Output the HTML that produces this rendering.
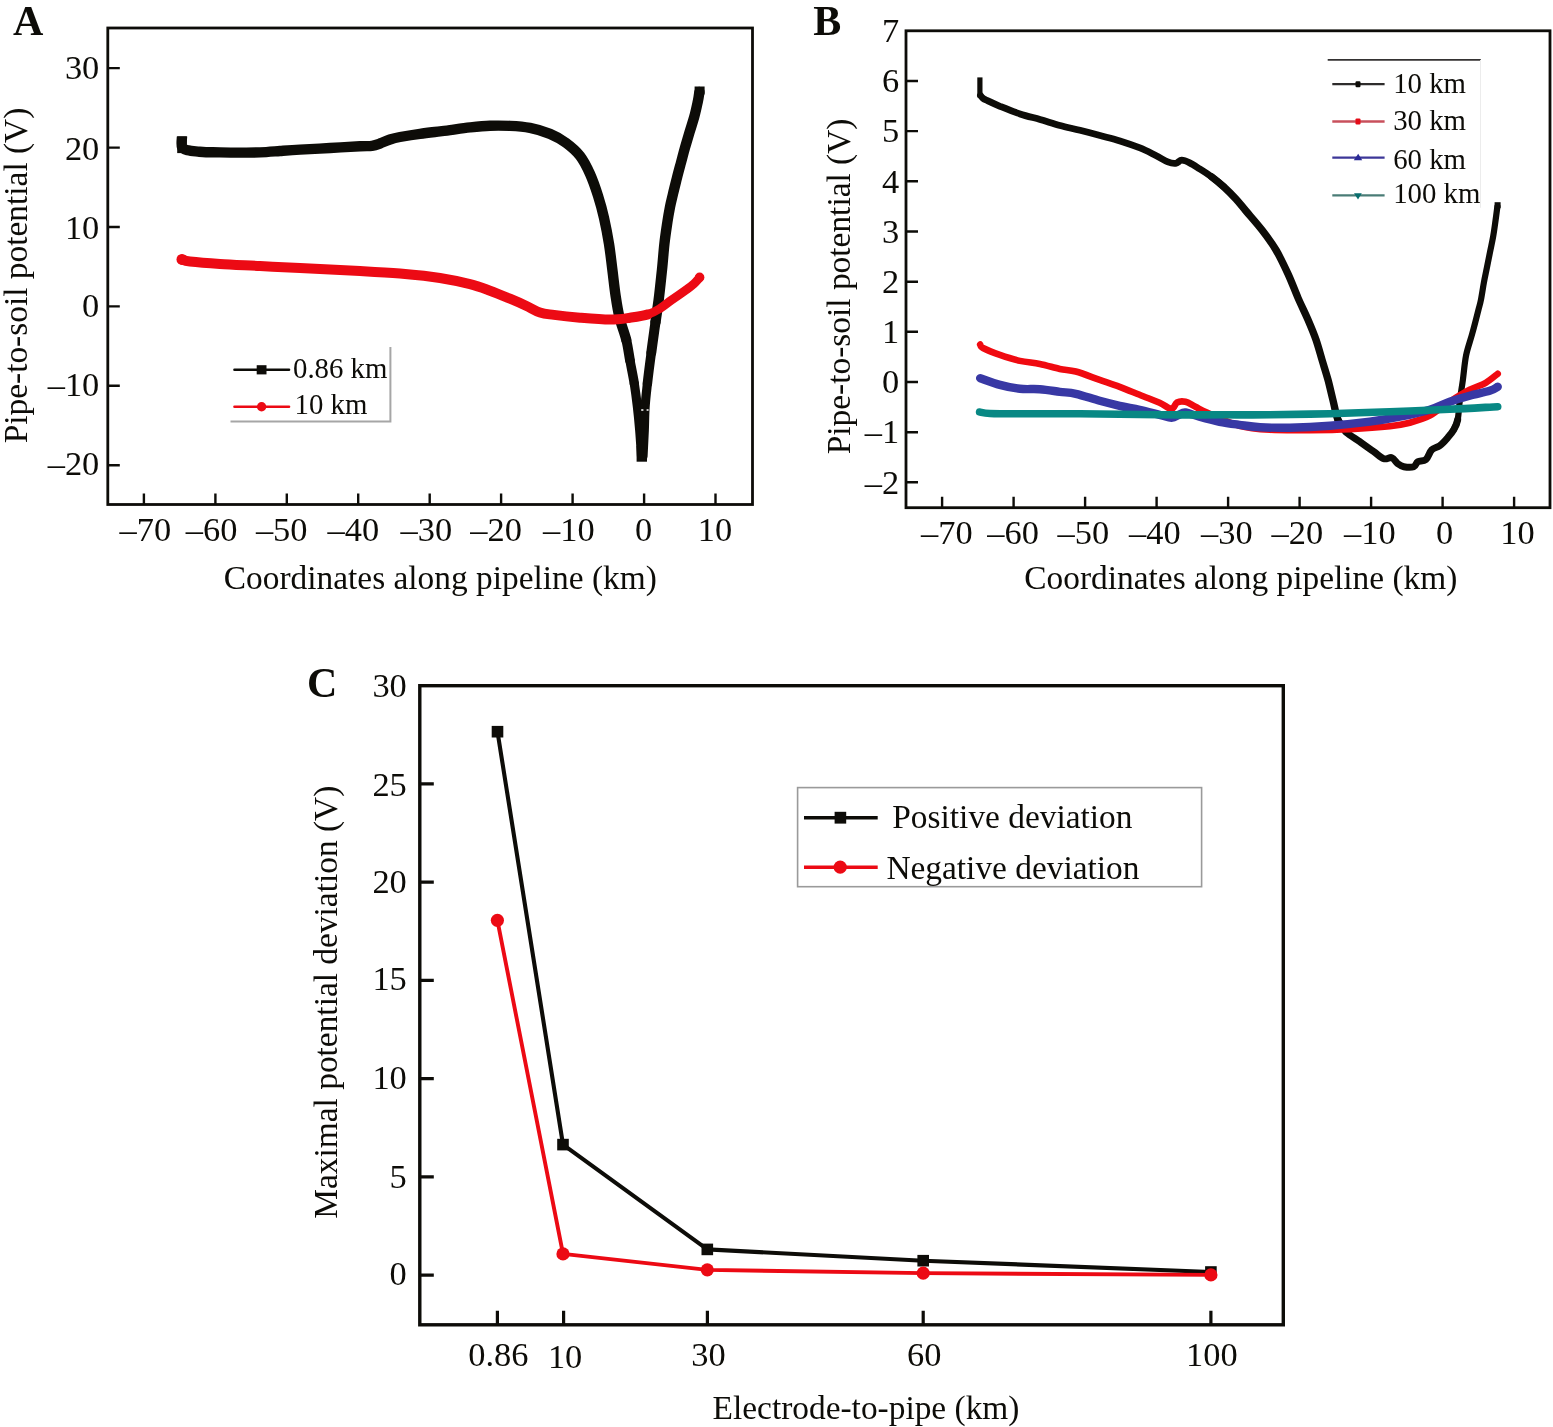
<!DOCTYPE html>
<html lang="en"><head><meta charset="utf-8"><title>Pipe-to-soil potential figure</title>
<style>
html,body{margin:0;padding:0;background:#fff;}
body{width:1553px;height:1427px;overflow:hidden;}
svg{display:block;position:absolute;left:0;top:0;}
text{font-family:"Liberation Serif",serif;fill:#0d0c08;}
.t{font-size:34.4px;}
.a{font-size:33.4px;}
.l{font-size:28.8px;}
.p{font-size:42px;font-weight:bold;}
.fr{fill:none;stroke:#0d0c08;stroke-width:2.8;}
.tk{fill:none;stroke:#0d0c08;stroke-width:2.4;}
.c{fill:none;stroke-linejoin:round;stroke-linecap:butt;}
.r{fill:none;stroke-linejoin:round;stroke-linecap:round;}
</style></head><body>
<svg width="1553" height="1427" viewBox="0 0 1553 1427">
<rect width="1553" height="1427" fill="#fff"/>
<g id="panelA">
<text class="p" x="13" y="34.8">A</text>
<rect class="fr" x="107.8" y="28.0" width="644.7" height="476.5"/>
<path class="tk" d="M107.8 68.1 h12 M107.8 147.6 h12 M107.8 227.0 h12 M107.8 306.4 h12 M107.8 385.8 h12 M107.8 465.3 h12 M143.9 504.5 v-11 M215.4 504.5 v-11 M286.8 504.5 v-11 M358.2 504.5 v-11 M429.7 504.5 v-11 M501.1 504.5 v-11 M572.6 504.5 v-11 M644.1 504.5 v-11 M715.5 504.5 v-11"/>
<text class="t" text-anchor="end" transform="translate(99.3 78.9)">30</text>
<text class="t" text-anchor="end" transform="translate(99.3 160.2)">20</text>
<text class="t" text-anchor="end" transform="translate(99.3 238.5)">10</text>
<text class="t" text-anchor="end" transform="translate(99.3 317.2)">0</text>
<text class="t" text-anchor="end" transform="translate(99.3 396.0)">–10</text>
<text class="t" text-anchor="end" transform="translate(99.3 475.2)">–20</text>
<text class="t" text-anchor="middle" transform="translate(145.4 541)">–70</text>
<text class="t" text-anchor="middle" transform="translate(211.6 541)">–60</text>
<text class="t" text-anchor="middle" transform="translate(281.7 541)">–50</text>
<text class="t" text-anchor="middle" transform="translate(353.3 541)">–40</text>
<text class="t" text-anchor="middle" transform="translate(426.3 541)">–30</text>
<text class="t" text-anchor="middle" transform="translate(496.1 541)">–20</text>
<text class="t" text-anchor="middle" transform="translate(568.9 541)">–10</text>
<text class="t" text-anchor="middle" transform="translate(643.6 541)">0</text>
<text class="t" text-anchor="middle" transform="translate(714.9 541)">10</text>
<text class="a" text-anchor="middle" x="440.3" y="588.8">Coordinates along pipeline (km)</text>
<text class="a" text-anchor="middle" transform="translate(26.8 275.5) rotate(-90)">Pipe-to-soil potential (V)</text>
<path class="c" stroke="#0d0c08" stroke-width="10.4" d="M182.0 136.5 C182.0 138.2 181.0 144.7 182.0 147.0 C183.0 149.3 185.3 149.5 188.0 150.3 C190.7 151.1 195.0 151.3 198.0 151.6 C201.0 151.9 202.3 152.1 206.0 152.2 C209.7 152.3 214.3 152.3 220.0 152.4 C225.7 152.5 233.3 152.6 240.0 152.6 C246.7 152.6 253.3 152.7 260.0 152.4 C266.7 152.1 273.3 151.5 280.0 151.0 C286.7 150.5 291.7 150.1 300.0 149.6 C308.3 149.1 320.0 148.6 330.0 148.0 C340.0 147.4 353.0 146.7 360.0 146.3 C367.0 145.9 368.7 146.3 372.0 145.8 C375.3 145.3 377.0 144.6 380.0 143.5 C383.0 142.4 386.7 140.6 390.0 139.5 C393.3 138.4 395.0 137.9 400.0 137.0 C405.0 136.1 413.3 134.7 420.0 133.8 C426.7 132.9 435.0 132.0 440.0 131.4 C445.0 130.8 445.0 130.9 450.0 130.2 C455.0 129.5 463.3 128.1 470.0 127.4 C476.7 126.7 483.3 126.0 490.0 125.8 C496.7 125.5 503.3 125.6 510.0 125.9 C516.7 126.2 523.3 126.6 530.0 127.9 C536.7 129.2 544.0 131.4 550.0 133.9 C556.0 136.4 561.0 139.2 566.0 142.9 C571.0 146.6 576.0 150.7 580.0 155.9 C584.0 161.1 587.0 167.2 590.0 173.9 C593.0 180.6 595.7 188.5 598.0 195.8 C600.3 203.1 602.2 209.8 604.0 217.8 C605.8 225.8 607.6 235.1 609.0 243.8 C610.4 252.5 611.3 261.4 612.4 270.0 C613.5 278.6 614.4 287.7 615.6 295.7 C616.8 303.7 617.8 310.6 619.6 318.0"/>
<path class="r" stroke="#0d0c08" stroke-width="10.2" d="M619.6 318.0 C621.4 325.4 624.6 332.9 626.3 340.0"/>
<path class="r" stroke="#0d0c08" stroke-width="9.8" d="M626.3 340.0 C628.0 347.1 628.7 353.2 630.0 360.5"/>
<path class="r" stroke="#0d0c08" stroke-width="9.4" d="M630.0 360.5 C631.3 367.8 633.1 375.9 634.3 383.6"/>
<path class="r" stroke="#0d0c08" stroke-width="9.2" d="M634.3 383.6 C635.5 391.3 636.5 399.1 637.4 406.8 C638.3 414.5 639.0 421.8 639.7 430.0 C640.4 438.2 641.2 451.8 641.5 456.2"/>
<path class="r" stroke="#0d0c08" stroke-width="9.2" d="M643.0 456.2 C643.2 451.8 643.9 438.2 644.3 430.0 C644.6 421.8 644.6 414.5 645.1 406.8 C645.6 399.1 646.4 392.6 647.4 383.6"/>
<path class="r" stroke="#0d0c08" stroke-width="9.5" d="M647.4 383.6 C648.4 374.6 649.9 363.0 651.3 352.7"/>
<path class="r" stroke="#0d0c08" stroke-width="10.0" d="M651.3 352.7 C652.6 342.4 654.3 330.8 655.5 322.0"/>
<path class="r" stroke="#0d0c08" stroke-width="10.4" d="M655.5 322.0 C656.7 313.2 657.6 308.4 658.7 299.7 C659.8 291.0 661.0 279.1 662.0 269.8 C663.0 260.5 663.5 251.8 664.4 243.8 C665.3 235.8 666.5 228.1 667.4 222.0 C668.3 215.9 669.1 211.7 670.0 207.0 C670.9 202.3 671.9 198.7 673.0 193.9 C674.1 189.2 675.5 183.7 676.8 178.5 C678.1 173.3 679.5 168.2 680.9 163.0 C682.3 157.8 683.5 152.8 685.0 147.6 C686.5 142.4 688.1 137.2 689.6 132.1 C691.1 126.9 692.9 121.8 694.3 116.7 C695.7 111.6 697.0 105.3 697.9 101.2 C698.8 97.1 699.1 93.5 699.4 92.0"/>
<rect x="177.2" y="136.3" width="9.6" height="16.8" fill="#0d0c08"/>
<rect x="694.6" y="86.5" width="10" height="8" fill="#0d0c08"/>
<rect x="636.6" y="446" width="10.4" height="15.7" fill="#0d0c08"/>
<path d="M641.2 410 h2.2 M646.6 410 h2" stroke="#fff" stroke-width="1.6" fill="none"/>
<path class="r" stroke="#ec0a14" stroke-width="10" d="M182.0 259.6 C183.3 259.9 183.7 260.8 190.0 261.5 C196.3 262.2 208.3 263.2 220.0 264.0 C231.7 264.8 246.7 265.3 260.0 266.0 C273.3 266.7 283.3 267.2 300.0 268.0 C316.7 268.8 343.3 270.1 360.0 271.0 C376.7 271.9 386.7 272.4 400.0 273.6 C413.3 274.8 428.3 276.2 440.0 278.0 C451.7 279.8 461.7 282.1 470.0 284.2 C478.3 286.3 483.3 288.3 490.0 290.7 C496.7 293.1 504.0 296.2 510.0 298.7 C516.0 301.2 521.0 303.4 526.0 305.7 C531.0 308.0 535.3 311.0 540.0 312.5 C544.7 314.0 547.3 314.0 554.0 314.9 C560.7 315.8 570.7 316.9 580.0 317.7 C589.3 318.5 601.7 319.6 610.0 319.6 C618.3 319.6 623.7 318.6 630.0 317.7 C636.3 316.8 643.0 315.9 648.0 314.4"/>
<path class="r" stroke="#ec0a14" stroke-width="8.8" d="M630.0 317.7 C636.3 316.8 643.0 315.9 648.0 314.4 C653.0 312.9 656.1 310.9 660.0 308.5 C663.9 306.1 666.9 303.4 671.4 300.2 C675.9 297.0 683.0 292.1 686.8 289.4 C690.6 286.6 691.9 285.6 694.0 283.7 C696.1 281.8 698.6 278.8 699.5 277.8"/>
<circle cx="182" cy="259.4" r="5.5" fill="#ec0a14"/>
<circle cx="699.6" cy="277.4" r="4.8" fill="#ec0a14"/>
<path d="M230.5 421.4 H390.4 V347" fill="none" stroke="#a6a6a6" stroke-width="2"/>
<path d="M234.5 369.8 H289" stroke="#0d0c08" stroke-width="2.6" stroke-linecap="round" fill="none"/>
<rect x="256.7" y="365.2" width="9.8" height="9.2" fill="#0d0c08"/>
<text class="l" x="293" y="377.5">0.86 km</text>
<path d="M234.5 406.8 H289" stroke="#ec0a14" stroke-width="2.6" stroke-linecap="round" fill="none"/>
<circle cx="261.6" cy="406.8" r="4.7" fill="#ec0a14"/>
<text class="l" x="294.5" y="413.6">10 km</text>
</g>
<g id="panelB">
<text class="p" x="813.2" y="34.9">B</text>
<rect class="fr" x="906.0" y="30.8" width="644.0" height="476.9"/>
<path class="tk" d="M906.0 81.0 h12 M906.0 131.1 h12 M906.0 181.3 h12 M906.0 231.5 h12 M906.0 281.7 h12 M906.0 331.8 h12 M906.0 382.0 h12 M906.0 432.2 h12 M906.0 482.3 h12 M942.1 507.7 v-11 M1013.6 507.7 v-11 M1085.1 507.7 v-11 M1156.6 507.7 v-11 M1228.1 507.7 v-11 M1299.6 507.7 v-11 M1371.1 507.7 v-11 M1442.6 507.7 v-11 M1514.1 507.7 v-11"/>
<text class="t" text-anchor="end" transform="translate(899.2 42.0)">7</text>
<text class="t" text-anchor="end" transform="translate(899.2 92.2)">6</text>
<text class="t" text-anchor="end" transform="translate(899.2 142.3)">5</text>
<text class="t" text-anchor="end" transform="translate(899.2 192.5)">4</text>
<text class="t" text-anchor="end" transform="translate(899.2 242.7)">3</text>
<text class="t" text-anchor="end" transform="translate(899.2 292.9)">2</text>
<text class="t" text-anchor="end" transform="translate(899.2 343.0)">1</text>
<text class="t" text-anchor="end" transform="translate(899.2 393.2)">0</text>
<text class="t" text-anchor="end" transform="translate(899.2 443.4)">–1</text>
<text class="t" text-anchor="end" transform="translate(899.2 493.5)">–2</text>
<text class="t" text-anchor="middle" transform="translate(946.9 544.1)">–70</text>
<text class="t" text-anchor="middle" transform="translate(1013.1 544.1)">–60</text>
<text class="t" text-anchor="middle" transform="translate(1083.4 544.1)">–50</text>
<text class="t" text-anchor="middle" transform="translate(1154.9 544.1)">–40</text>
<text class="t" text-anchor="middle" transform="translate(1226.9 544.1)">–30</text>
<text class="t" text-anchor="middle" transform="translate(1297.4 544.1)">–20</text>
<text class="t" text-anchor="middle" transform="translate(1369.8 544.1)">–10</text>
<text class="t" text-anchor="middle" transform="translate(1444.6 544.1)">0</text>
<text class="t" text-anchor="middle" transform="translate(1517.5 544.1)">10</text>
<text class="a" text-anchor="middle" x="1240.8" y="589.0">Coordinates along pipeline (km)</text>
<text class="a" text-anchor="middle" transform="translate(849.7 286.4) rotate(-90)">Pipe-to-soil potential (V)</text>
<rect x="977.3" y="77.4" width="5.2" height="20" fill="#0d0c08"/>
<path class="r" stroke="#0d0c08" stroke-width="6.8" d="M980.5 95.5 C980.9 96.0 982.1 97.5 983.0 98.2 C983.9 99.0 983.2 98.7 986.0 100.0 C988.8 101.3 994.3 104.0 1000.0 106.3 C1005.7 108.6 1013.3 111.7 1020.0 113.9 C1026.7 116.1 1033.3 117.6 1040.0 119.5 C1046.7 121.4 1053.3 123.7 1060.0 125.5 C1066.7 127.3 1073.3 128.6 1080.0 130.3 C1086.7 132.0 1093.3 133.7 1100.0 135.5 C1106.7 137.3 1113.3 138.8 1120.0 140.9 C1126.7 143.0 1134.0 145.5 1140.0 147.9 C1146.0 150.3 1151.2 153.2 1155.8 155.5 C1160.4 157.8 1164.5 160.6 1167.8 161.9 C1171.1 163.2 1173.4 163.6 1175.7 163.3 C1178.0 163.0 1179.4 160.3 1181.7 160.2 C1184.0 160.1 1186.7 161.4 1189.7 162.9 C1192.7 164.4 1196.0 166.6 1199.7 168.9 C1203.4 171.2 1207.7 173.9 1211.7 176.9 C1215.7 179.9 1219.7 183.2 1223.7 186.8"/>
<path class="r" stroke="#0d0c08" stroke-width="7.4" d="M1211.7 176.9 C1215.7 179.9 1219.7 183.2 1223.7 186.8 C1227.7 190.5 1232.0 194.8 1235.7 198.8 C1239.4 202.8 1241.6 205.8 1246.0 211.0 C1250.4 216.2 1257.0 223.5 1262.0 230.0 C1267.0 236.5 1271.7 242.7 1276.0 250.0 C1280.3 257.3 1284.3 265.9 1288.0 273.9 C1291.7 281.9 1294.7 290.2 1298.0 297.9 C1301.3 305.5 1305.0 312.8 1308.0 319.8 C1311.0 326.8 1313.7 333.1 1316.0 339.8 C1318.3 346.5 1320.0 353.1 1322.0 359.8 C1324.0 366.5 1326.2 373.1 1328.0 379.8 C1329.8 386.5 1331.2 393.2 1332.9 399.8 C1334.6 406.4 1335.7 414.4 1337.9 419.7 C1340.1 425.0 1342.2 428.0 1345.9 431.7"/>
<path class="r" stroke="#0d0c08" stroke-width="7" d="M1337.9 419.7 C1340.1 425.0 1342.2 428.0 1345.9 431.7 C1349.6 435.4 1355.2 438.4 1359.8 441.7 C1364.4 445.0 1369.8 448.9 1373.8 451.7 C1377.8 454.5 1380.8 457.7 1383.8 458.7 C1386.8 459.7 1389.5 456.9 1391.8 457.7 C1394.1 458.5 1395.8 462.2 1397.8 463.7 C1399.8 465.2 1401.1 466.2 1403.8 466.7 C1406.5 467.2 1411.5 467.5 1413.8 466.7 C1416.1 465.9 1415.8 462.9 1417.8 461.7 C1419.8 460.5 1423.5 461.7 1425.8 459.7 C1428.1 457.7 1429.5 452.0 1431.8 449.7 C1434.1 447.4 1437.0 447.7 1439.7 445.7 C1442.4 443.7 1445.4 440.4 1447.7 437.7 C1450.0 435.0 1452.0 432.7 1453.7 429.7 C1455.4 426.7 1456.7 424.7 1457.7 419.7"/>
<path class="r" stroke="#0d0c08" stroke-width="6.2" d="M1453.7 429.7 C1455.4 426.7 1456.7 424.7 1457.7 419.7 C1458.7 414.7 1459.0 406.4 1459.9 399.8 C1460.8 393.2 1461.9 387.1 1462.9 379.8 C1463.9 372.5 1464.5 363.5 1466.0 355.8 C1467.5 348.1 1470.1 341.5 1472.2 333.8 C1474.3 326.1 1477.0 315.5 1478.4 309.9 C1479.9 304.3 1480.0 304.6 1480.9 300.0 C1481.8 295.4 1482.9 288.0 1483.9 282.5 C1484.9 277.0 1486.0 272.2 1487.0 267.1 C1488.0 262.0 1489.1 256.8 1490.1 251.7 C1491.1 246.6 1492.3 241.5 1493.2 236.3 C1494.1 231.2 1494.8 225.8 1495.5 220.8 C1496.2 215.8 1497.1 208.9 1497.4 206.5"/>
<rect x="1494.6" y="202.2" width="6" height="6" fill="#0d0c08"/>
<path class="r" stroke="#f00a10" stroke-width="6.6" d="M980.2 344.6 C980.7 345.2 979.7 346.3 983.0 348.0 C986.3 349.7 993.8 352.8 999.9 354.9 C1006.0 357.0 1013.2 359.4 1019.9 360.9 C1026.5 362.4 1033.1 362.6 1039.8 363.9 C1046.5 365.2 1053.8 367.6 1059.8 368.9 C1065.8 370.2 1069.1 369.7 1075.8 371.5 C1082.5 373.3 1092.4 377.3 1099.7 379.9 C1107.0 382.4 1113.1 384.3 1119.7 386.8 C1126.3 389.3 1132.9 392.1 1139.6 394.8 C1146.2 397.5 1154.3 400.5 1159.6 402.8 C1164.9 405.1 1168.7 408.9 1171.6 408.8 C1174.5 408.8 1174.7 403.7 1177.0 402.5 C1179.3 401.3 1182.4 401.1 1185.5 401.8 C1188.6 402.5 1191.8 405.0 1195.5 406.8 C1199.2 408.6 1200.2 409.6 1207.5 412.8 C1214.8 416.0 1229.0 423.0 1239.4 425.8 C1249.8 428.6 1258.2 429.1 1270.0 429.8 C1281.8 430.5 1296.7 430.3 1310.0 430.2 C1323.3 430.1 1336.6 429.9 1349.9 429.2 C1363.2 428.5 1379.8 427.3 1389.8 426.2 C1399.8 425.1 1403.1 424.4 1409.8 422.7 C1416.5 420.9 1423.1 419.2 1429.8 415.7 C1436.5 412.2 1443.0 406.0 1449.7 401.7 C1456.4 397.4 1463.7 392.9 1469.7 389.8 C1475.7 386.7 1481.0 385.5 1485.7 382.8 C1490.4 380.1 1495.7 375.3 1497.7 373.8"/>
<path class="r" stroke="#3838a4" stroke-width="8.4" d="M980.2 378.2 C983.5 379.3 993.3 383.1 999.9 384.9 C1006.5 386.7 1013.2 388.1 1019.9 388.8 C1026.5 389.5 1033.1 388.7 1039.8 389.2 C1046.5 389.7 1053.8 391.0 1059.8 391.8 C1065.8 392.6 1069.1 392.3 1075.8 393.8 C1082.5 395.3 1092.4 398.8 1099.7 400.8 C1107.0 402.8 1113.1 404.3 1119.7 405.8 C1126.3 407.3 1132.9 408.3 1139.6 409.8 C1146.2 411.3 1154.3 413.5 1159.6 414.8 C1164.9 416.1 1168.3 417.9 1171.6 417.8 C1174.9 417.8 1177.3 415.4 1179.6 414.5 C1181.9 413.6 1182.2 412.1 1185.5 412.5 C1188.8 412.9 1193.8 415.2 1199.5 416.8 C1205.2 418.4 1212.8 420.5 1219.5 421.8 C1226.2 423.1 1232.7 423.9 1239.4 424.8 C1246.2 425.7 1251.6 426.7 1260.0 427.2 C1268.4 427.7 1278.3 427.9 1290.0 427.7 C1301.7 427.4 1316.7 426.7 1330.0 425.7 C1343.3 424.7 1358.2 423.2 1369.8 421.7 C1381.4 420.2 1389.8 418.7 1399.8 416.7 C1409.8 414.7 1421.5 412.2 1429.8 409.7 C1438.1 407.2 1443.0 404.0 1449.7 401.7 C1456.4 399.4 1463.0 397.5 1469.7 395.7 C1476.4 393.9 1485.0 392.3 1489.7 390.8 C1494.4 389.3 1496.4 387.5 1497.7 386.8"/>
<path class="r" stroke="#088884" stroke-width="7.6" d="M979.6 412.0 C981.3 412.2 983.3 413.2 990.0 413.5 C996.7 413.8 1004.9 413.8 1019.9 413.8 C1034.9 413.9 1056.5 413.6 1079.8 413.8 C1103.1 414.0 1136.3 414.6 1159.6 414.8 C1182.9 415.0 1201.1 414.8 1219.5 414.8 C1237.9 414.8 1251.6 415.0 1270.0 414.8 C1288.4 414.6 1309.9 414.2 1329.9 413.7 C1349.9 413.2 1369.8 412.4 1389.8 411.7 C1409.8 411.0 1431.7 410.1 1449.7 409.3 C1467.7 408.5 1489.7 407.1 1497.7 406.7"/>
<path d="M1327.7 59.9 H1480.8" stroke="#343232" stroke-width="1.9" fill="none"/>
<path d="M1480.5 60 V207.8" stroke="#ececec" stroke-width="1" fill="none"/>
<path d="M1332.3 84.2 H1384.6" stroke="#2e2c2c" stroke-width="2.2" fill="none"/>
<rect x="1355.5" y="81.2" width="5" height="6" rx="1.2" fill="#0d0c08"/>
<text class="l" x="1393.2" y="92.7">10 km</text>
<path d="M1332.3 121.4 H1384.6" stroke="#c8505c" stroke-width="2.5" fill="none"/>
<rect x="1355.5" y="118.4" width="5" height="6" rx="1.2" fill="#e40c18"/>
<text class="l" x="1393.2" y="129.7">30 km</text>
<path d="M1332.3 157.6 H1384.6" stroke="#3d3798" stroke-width="2.3" fill="none"/>
<path d="M1353.8 160.3 L1358.2 153.7 L1362.2 160.3 Z" fill="#2a2a96"/>
<text class="l" x="1393.2" y="168.5">60 km</text>
<path d="M1332.3 195.4 H1384.6" stroke="#4a7c76" stroke-width="2.1" fill="none"/>
<path d="M1354 193.2 L1358 199.5 L1361.8 193.2 Z" fill="#0a6e6e"/>
<text class="l" x="1393.2" y="202.7">100 km</text>
</g>
<g id="panelC">
<text class="p" x="306.9" y="696.6">C</text>
<rect class="fr" style="stroke-width:3.4" x="419.8" y="685.7" width="863.5" height="639.1"/>
<path class="tk" style="stroke-width:3.2" d="M419.8 783.9 h14 M419.8 882.1 h14 M419.8 980.4 h14 M419.8 1078.6 h14 M419.8 1176.8 h14 M419.8 1275.1 h14 M497.4 1324.8 v-14 M563.6 1324.8 v-14 M707.4 1324.8 v-14 M923.2 1324.8 v-14 M1210.9 1324.8 v-14"/>
<text class="t" text-anchor="end" transform="translate(406.8 697.1)">30</text>
<text class="t" text-anchor="end" transform="translate(406.8 795.7)">25</text>
<text class="t" text-anchor="end" transform="translate(406.8 893.3)">20</text>
<text class="t" text-anchor="end" transform="translate(406.8 990.4)">15</text>
<text class="t" text-anchor="end" transform="translate(406.8 1088.8)">10</text>
<text class="t" text-anchor="end" transform="translate(406.8 1187.8)">5</text>
<text class="t" text-anchor="end" transform="translate(406.8 1285.2)">0</text>
<text class="t" text-anchor="middle" transform="translate(498.4 1365.9)">0.86</text>
<text class="t" text-anchor="middle" transform="translate(565.1 1368.2)">10</text>
<text class="t" text-anchor="middle" transform="translate(708.4 1365.9)">30</text>
<text class="t" text-anchor="middle" transform="translate(924.2 1365.9)">60</text>
<text class="t" text-anchor="middle" transform="translate(1211.9 1365.9)">100</text>
<text class="a" text-anchor="middle" x="866" y="1418.6">Electrode-to-pipe (km)</text>
<text class="a" text-anchor="middle" transform="translate(337.2 1002.2) rotate(-90)">Maximal potential deviation (V)</text>
<path class="c" stroke="#0d0c08" stroke-width="4.1" d="M497.5 731.7 L563.0 1144.6 L707.3 1249.4 L923.2 1260.7 L1210.9 1272.0"/>
<rect x="491.7" y="725.9" width="11.6" height="11.6" fill="#0d0c08"/>
<rect x="557.2" y="1138.8" width="11.6" height="11.6" fill="#0d0c08"/>
<rect x="701.5" y="1243.6" width="11.6" height="11.6" fill="#0d0c08"/>
<rect x="917.4" y="1254.9" width="11.6" height="11.6" fill="#0d0c08"/>
<rect x="1205.1" y="1266.2" width="11.6" height="11.6" fill="#0d0c08"/>
<path class="c" stroke="#ec0a14" stroke-width="3.9" d="M497.4 920.3 L563.0 1253.9 L707.3 1269.9 L923.2 1273.1 L1210.9 1274.9"/>
<circle cx="497.4" cy="920.3" r="6.6" fill="#ec0a14"/>
<circle cx="563.0" cy="1253.9" r="6.6" fill="#ec0a14"/>
<circle cx="707.3" cy="1269.9" r="6.6" fill="#ec0a14"/>
<circle cx="923.2" cy="1273.1" r="6.6" fill="#ec0a14"/>
<circle cx="1210.9" cy="1274.9" r="6.6" fill="#ec0a14"/>
<rect x="797.6" y="787.6" width="404" height="99.1" fill="#fff" stroke="#9a9a9a" stroke-width="1.6"/>
<path d="M804 817.7 H877.7" stroke="#0d0c08" stroke-width="3.4" fill="none"/>
<rect x="834.6" y="811.8" width="11.6" height="11.8" fill="#0d0c08"/>
<text class="a" x="892.3" y="827.7">Positive deviation</text>
<path d="M804 867.2 H877.7" stroke="#ec0a14" stroke-width="3.4" fill="none"/>
<circle cx="840.2" cy="867.2" r="6.6" fill="#ec0a14"/>
<text class="a" x="886.4" y="878.7">Negative deviation</text>
</g>
</svg>
</body></html>
